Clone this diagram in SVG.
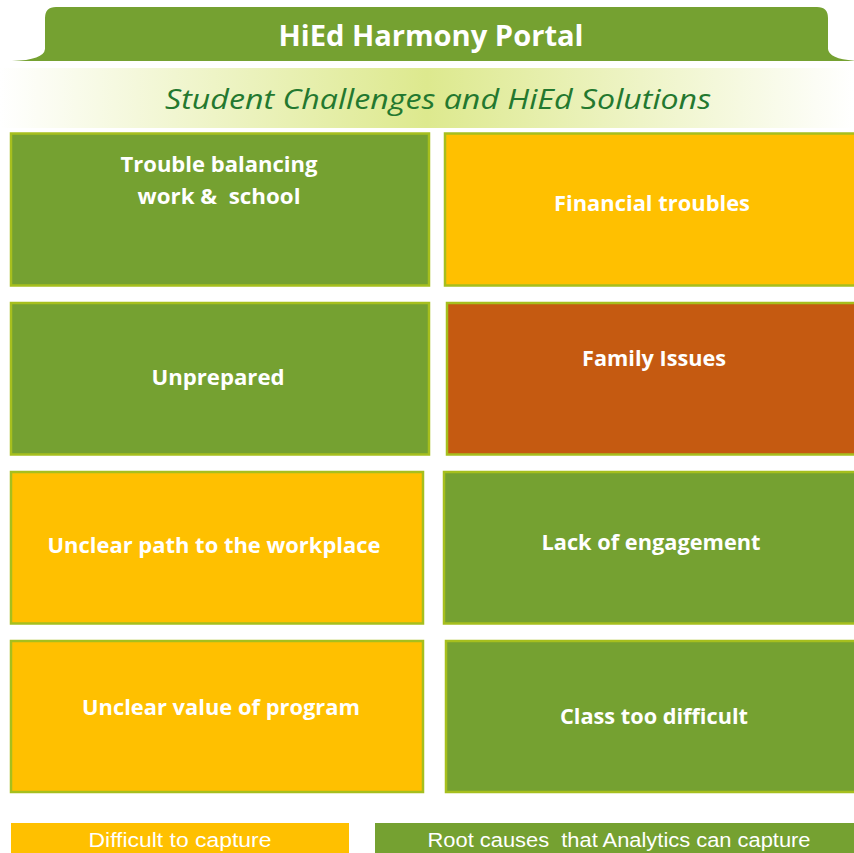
<svg xmlns="http://www.w3.org/2000/svg" width="854" height="853" viewBox="0 0 854 853">
<defs>
<linearGradient id="band" x1="0" y1="0" x2="1" y2="0">
<stop offset="0" stop-color="#ffffff"/>
<stop offset="0.5" stop-color="#dde98e"/>
<stop offset="1" stop-color="#ffffff"/>
</linearGradient>
<style>
.box{stroke:#a6bf1e;stroke-width:2.5}
.g{fill:#75a131}
.y{fill:#ffc000}
.o{fill:#c55a11}
.bt{font-family:"Open Sans","Liberation Sans",sans-serif;font-weight:bold;font-size:21px;fill:#ffffff;text-anchor:middle;white-space:pre}
.lt{font-family:"Liberation Sans","Open Sans",sans-serif;font-size:20px;fill:#ffffff;text-anchor:middle;white-space:pre}
</style>
</defs>
<rect width="854" height="853" fill="#ffffff"/>
<g id="header">
<path d="M 12,61 Q 44,60 45,49 L 45,18 Q 45,7 56,7 L 817,7 Q 828,7 828,18 L 828,49 Q 829,60 860,61 Z" fill="#75a131"/>
<text x="431" y="46" font-family="Open Sans,Liberation Sans,sans-serif" font-weight="bold" font-size="28" fill="#ffffff" text-anchor="middle" textLength="305" lengthAdjust="spacingAndGlyphs">HiEd Harmony Portal</text>
</g>
<g id="subtitle">
<rect x="0" y="68" width="854" height="60" fill="url(#band)"/>
<text x="438" y="109" font-family="Open Sans,Liberation Sans,sans-serif" font-style="italic" font-size="28" fill="#23782f" text-anchor="middle" textLength="546" lengthAdjust="spacingAndGlyphs">Student Challenges and HiEd Solutions</text>
</g>
<g id="n1"><rect class="box g" x="11" y="133.5" width="418" height="152"/>
<text class="bt" x="219" y="172" textLength="197" lengthAdjust="spacingAndGlyphs">Trouble balancing</text>
<text class="bt" x="219" y="204" textLength="163" lengthAdjust="spacingAndGlyphs" xml:space="preserve">work &amp;  school</text></g>
<g id="n2"><rect class="box y" x="445" y="133.5" width="412" height="152"/>
<text class="bt" x="652" y="211" textLength="196" lengthAdjust="spacingAndGlyphs">Financial troubles</text></g>
<g id="n3"><rect class="box g" x="11" y="303" width="418" height="151.5"/>
<text class="bt" x="218" y="385" textLength="133" lengthAdjust="spacingAndGlyphs">Unprepared</text></g>
<g id="n4"><rect class="box o" x="447" y="303" width="410" height="151.5"/>
<text class="bt" x="654" y="366" textLength="144" lengthAdjust="spacingAndGlyphs">Family Issues</text></g>
<g id="n5"><rect class="box y" x="11" y="472" width="412" height="151.5"/>
<text class="bt" x="214" y="553" textLength="333" lengthAdjust="spacingAndGlyphs">Unclear path to the workplace</text></g>
<g id="n6"><rect class="box g" x="444" y="472" width="413" height="151.5"/>
<text class="bt" x="651" y="550" textLength="219" lengthAdjust="spacingAndGlyphs">Lack of engagement</text></g>
<g id="n7"><rect class="box y" x="11" y="641" width="412" height="151"/>
<text class="bt" x="221" y="715" textLength="278" lengthAdjust="spacingAndGlyphs">Unclear value of program</text></g>
<g id="n8"><rect class="box g" x="446" y="641" width="411" height="151"/>
<text class="bt" x="654" y="724" textLength="188" lengthAdjust="spacingAndGlyphs">Class too difficult</text></g>
<g id="legend">
<rect x="11" y="823" width="338" height="32" fill="#ffc000"/>
<text class="lt" x="180" y="847" textLength="183" lengthAdjust="spacingAndGlyphs">Difficult to capture</text>
<rect x="375" y="823" width="482" height="32" fill="#75a131"/>
<text class="lt" x="619" y="847" textLength="383" lengthAdjust="spacingAndGlyphs" xml:space="preserve">Root causes  that Analytics can capture</text>
</g>
<g id="connectors"/>
</svg>
